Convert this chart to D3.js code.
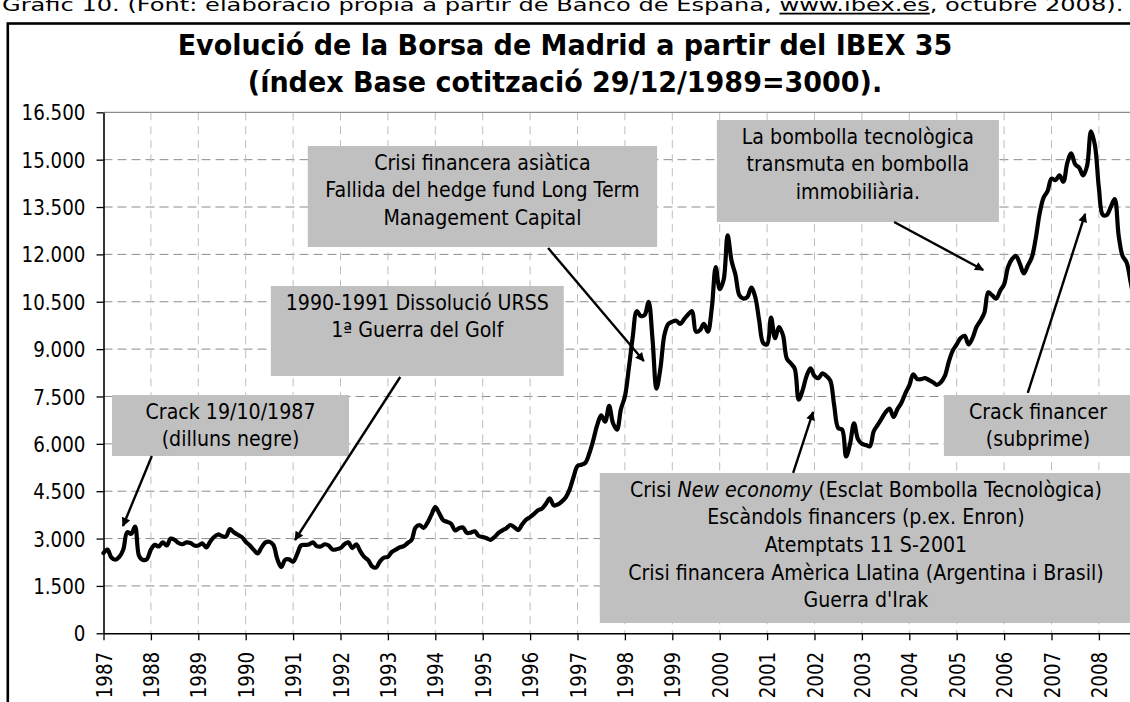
<!DOCTYPE html>
<html>
<head>
<meta charset="utf-8">
<script src="https://cdn.jsdelivr.net/npm/d3@7"></script>
<style>
  html, body { margin: 0; padding: 0; background: #fff; overflow: hidden; }
  svg { display: block; }
  text { font-family: "DejaVu Sans", Verdana, sans-serif; fill: #000; }
</style>
</head>
<body>
<svg id="chart" width="1130" height="702"></svg>
<script>
// ---------------------------------------------------------------
// Data: IBEX 35, monthly values starting January 1987
// ---------------------------------------------------------------
const firstYear = 1987;
const ibexMonthly = [
  // 1987
  2540, 2650, 2400, 2330, 2420, 2650, 3200, 3150, 3380, 2450, 2320, 2350,
  // 1988
  2650, 2800, 2750, 2880, 2780, 3000, 2960, 2860, 2820, 2880, 2860, 2780,
  // 1989
  2780, 2850, 2720, 2900, 3050, 3130, 3080, 3060, 3300, 3200, 3120, 3050,
  // 1990
  2900, 2790, 2650, 2530, 2720, 2880, 2900, 2800, 2350, 2100, 2330, 2340,
  // 1991
  2270, 2500, 2780, 2800, 2810, 2880, 2760, 2750, 2820, 2780, 2650, 2660,
  // 1992
  2700, 2820, 2880, 2700, 2820, 2600, 2420, 2320, 2120, 2080, 2280, 2400,
  // 1993
  2420, 2580, 2650, 2720, 2760, 2860, 2960, 3350, 3430, 3340, 3500, 3750,
  // 1994
  4000, 3800, 3580, 3530, 3470, 3260, 3330, 3350, 3180, 3190, 3230, 3080,
  // 1995
  3050, 3010, 2960, 3050, 3180, 3260, 3330, 3430, 3360, 3270, 3450, 3600,
  // 1996
  3680, 3780, 3900, 3950, 4100, 4270, 4050, 4080, 4170, 4300, 4550, 4950,
  // 1997
  5300, 5340, 5400, 5700, 6120, 6600, 6900, 6700, 7200, 6650, 6450, 7100,
  // 1998
  7500, 8400, 9400, 10200, 10050, 10080, 10500, 9300, 7750, 8400, 9450, 9800,
  // 1999
  9870, 9900, 9800, 9950, 10100, 10200, 9550, 9600, 9800, 9550, 10300, 11600,
  // 2000
  10900, 11200, 12600, 11800, 11350, 10700, 10600, 10650, 10950, 10650, 9900, 9200,
  // 2001
  9150, 10000, 9350, 9700, 9450, 8700, 8550, 8380, 7400, 7700, 8150, 8390,
  // 2002
  8150, 8080, 8230, 8150, 8000, 7200, 6500, 6450, 5600, 6000, 6650, 6150,
  // 2003
  6000, 5960, 5920, 6400, 6600, 6800, 7000, 7120, 6850, 7100, 7300, 7600,
  // 2004
  7850, 8200, 8050, 8050, 8080, 8020, 7950, 7870, 7950, 8150, 8600, 8950,
  // 2005
  9150, 9350, 9420, 9150, 9350, 9700, 9900, 10150, 10800, 10700, 10600, 10850,
  // 2006
  11050, 11600, 11850, 11950, 11700, 11400, 11650, 11900, 12500, 13300, 13800, 14000,
  // 2007
  14400, 14350, 14500, 14300, 14900, 15200, 14850, 14750, 14500, 14800, 15900, 15450,
  // 2008
  14100, 13250, 13250, 13500, 13750, 12600, 11950, 11750, 11150, 10500
];

const yearTicks = [1987, 1988, 1989, 1990, 1991, 1992, 1993, 1994, 1995, 1996, 1997,
                   1998, 1999, 2000, 2001, 2002, 2003, 2004, 2005, 2006, 2007, 2008];
const valueTicks = [0, 1500, 3000, 4500, 6000, 7500, 9000, 10500, 12000, 13500, 15000, 16500];

const captionText = ["Gràfic 10. (Font: elaboració pròpia a partir de Banco de España, ", "www.ibex.es", ", octubre 2008)."];
const titleLines = ["Evolució de la Borsa de Madrid a partir del IBEX 35",
                    "(índex Base cotització 29/12/1989=3000)."];

// Annotation boxes (extent in years / index points) with their text lines,
// and arrows pointing from the box to the event on the curve.
const notes = [
  { x0: 1987.18, x1: 1992.18, y0: 7547, y1: 5615,
    lines: [["Crack 19/10/1987"], ["(dilluns negre)"]],
    arrow: { from: [1988.02, 5615], to: [1987.41, 3398] } },
  { x0: 1990.53, x1: 1996.71, y0: 11000, y1: 8149,
    lines: [["1990-1991 Dissolució URSS"], ["1ª Guerra del Golf"]],
    arrow: { from: [1993.26, 8117], to: [1991.04, 2955] } },
  { x0: 1991.31, x1: 1998.68, y0: 15433, y1: 12234,
    lines: [["Crisi financera asiàtica"], ["Fallida del hedge fund Long Term"], ["Management Capital"]],
    arrow: { from: [1996.38, 12202], to: [1998.40, 8624] } },
  { x0: 1999.94, x1: 2005.89, y0: 16256, y1: 13026,
    lines: [["La bombolla tecnològica"], ["transmuta en bombolla"], ["immobiliària."]],
    arrow: { from: [2003.68, 13026], to: [2005.56, 11506] } },
  { x0: 1997.47, x1: 2008.70, y0: 5077, y1: 326,
    lines: [["Crisi ", "*New economy", " (Esclat Bombolla Tecnològica)"],
            ["Escàndols financers (p.ex. Enron)"],
            ["Atemptats 11 S-2001"],
            ["Crisi financera Amèrica Llatina (Argentina i Brasil)"],
            ["Guerra d'Irak"]],
    arrow: { from: [2001.55, 5077], to: [2001.97, 7009] } },
  { x0: 2004.73, x1: 2008.70, y0: 7547, y1: 5615,
    lines: [["Crack financer"], ["(subprime)"]],
    arrow: { from: [2006.50, 7611], to: [2007.71, 13280] } }
];

// ---------------------------------------------------------------
const svg = d3.select("#chart");

// Horizontal squeeze so the wide DejaVu glyphs occupy a Tahoma-like width.
function measure(str, size, weight) {
  const t = svg.append("text").attr("font-size", size).attr("font-weight", weight || "normal").text(str);
  const w = t.node().getComputedTextLength();
  t.remove();
  return w;
}
const tickSize = 21, noteSize = 20.5, titleSize = 28, captionSize = 18;
const tickF = 64 / measure("16.500", tickSize);
const noteF = 476 / measure("Crisi financera Amèrica Llatina (Argentina i Brasil)", noteSize);
const titleF = 775 / measure(titleLines[0], titleSize, "bold");
const captionF = 1122 / measure(captionText.join(""), captionSize);

const x = d3.scaleLinear().domain([1987, 2009]).range([103.5, 1146.3]);
const y = d3.scaleLinear().domain([0, 16500]).range([633.3, 112.3]);

// Caption above the frame (partly cut by the top edge)
const cap = svg.append("text")
  .attr("font-size", captionSize)
  .attr("transform", `translate(2,11) scale(${captionF},1)`);
cap.append("tspan").text(captionText[0]);
cap.append("tspan").attr("text-decoration", "underline").text(captionText[1]);
cap.append("tspan").text(captionText[2]);

// Outer frame
svg.append("rect")
  .attr("x", 7.8).attr("y", 23.5)
  .attr("width", 1300).attr("height", 900)
  .attr("fill", "none").attr("stroke", "#000").attr("stroke-width", 2.6);

// Title
titleLines.forEach((line, i) => {
  svg.append("text")
    .attr("font-size", titleSize).attr("font-weight", "bold")
    .attr("text-anchor", "middle")
    .attr("transform", `translate(565,${55 + i * 37}) scale(${titleF},1)`)
    .text(line);
});

// Grid
const grid = svg.append("g");
grid.selectAll("line.h")
  .data(valueTicks.filter(v => v > 0 && v < 16500))
  .join("line")
  .attr("x1", x(1987)).attr("x2", 1130)
  .attr("y1", d => y(d)).attr("y2", d => y(d))
  .attr("stroke", "#8c8c8c").attr("stroke-width", 1)
  .attr("stroke-dasharray", "9,5");
grid.selectAll("line.v")
  .data(yearTicks.filter(t => t > 1987))
  .join("line")
  .attr("x1", d => x(d)).attr("x2", d => x(d))
  .attr("y1", y(16500)).attr("y2", y(0))
  .attr("stroke", "#bdbdbd").attr("stroke-width", 1)
  .attr("stroke-dasharray", "8,6");
grid.append("line")
  .attr("x1", x(1987)).attr("x2", 1130)
  .attr("y1", y(16500)).attr("y2", y(16500))
  .attr("stroke", "#8c8c8c").attr("stroke-width", 1.2);

// Axes
const fmt = d3.formatLocale({ decimal: ",", thousands: ".", grouping: [3], currency: ["", "€"] }).format(",d");

const yAxis = svg.append("g")
  .attr("transform", `translate(${x(1987)},0)`)
  .call(d3.axisLeft(y).tickValues(valueTicks).tickFormat(fmt).tickSize(7).tickSizeOuter(0).tickPadding(11));
yAxis.attr("font-family", null).attr("font-size", tickSize);
yAxis.select(".domain").attr("stroke", "#000").attr("stroke-width", 1.6);
yAxis.selectAll(".tick line").attr("stroke", "#000").attr("stroke-width", 1.3);
yAxis.selectAll(".tick text").each(function () {
  const t = d3.select(this);
  const px = +t.attr("x");
  t.attr("x", px / tickF).attr("transform", `scale(${tickF},1)`).attr("dy", "0.36em");
});

const xAxis = svg.append("g")
  .attr("transform", `translate(0,${y(0)})`)
  .call(d3.axisBottom(x).tickValues(yearTicks).tickFormat(d3.format("d")).tickSize(7).tickSizeOuter(0));
xAxis.attr("font-family", null).attr("font-size", tickSize);
xAxis.select(".domain").attr("stroke", "#000").attr("stroke-width", 1.6);
xAxis.selectAll(".tick line").attr("stroke", "#000").attr("stroke-width", 1.3);
xAxis.selectAll(".tick text")
  .attr("text-anchor", "end")
  .attr("x", -18.5 / tickF)
  .attr("y", 0)
  .attr("dy", "0.36em")
  .attr("transform", `rotate(-90) scale(${tickF},1)`);

// Index curve
const series = ibexMonthly.map((v, i) => ({ t: firstYear + i / 12, v }));
svg.append("path")
  .datum(series)
  .attr("fill", "none")
  .attr("stroke", "#000")
  .attr("stroke-width", 4.2)
  .attr("stroke-linejoin", "round")
  .attr("stroke-linecap", "round")
  .attr("d", d3.line().x(d => x(d.t)).y(d => y(d.v)).curve(d3.curveCatmullRom.alpha(0.5)));

// Arrowhead marker
svg.append("defs").append("marker")
  .attr("id", "head")
  .attr("viewBox", "0 0 10 10")
  .attr("refX", 9).attr("refY", 5)
  .attr("markerUnits", "userSpaceOnUse")
  .attr("markerWidth", 11).attr("markerHeight", 9)
  .attr("orient", "auto")
  .append("path").attr("d", "M0,0 L10,5 L0,10 Z").attr("fill", "#000");

// Annotation boxes
const lineStep = 27.6, firstBase = 23.8;
notes.forEach(n => {
  const bx = x(n.x0), bw = x(n.x1) - x(n.x0);
  const by = y(n.y0), bh = y(n.y1) - y(n.y0);
  svg.append("rect")
    .attr("x", bx).attr("y", by).attr("width", bw).attr("height", bh)
    .attr("fill", "#c0c0c0");
  const cx = bx + bw / 2;
  n.lines.forEach((parts, i) => {
    const t = svg.append("text")
      .attr("font-size", noteSize)
      .attr("text-anchor", "middle")
      .attr("transform", `translate(${cx},${by + firstBase + i * lineStep}) scale(${noteF},1)`);
    parts.forEach(p => {
      if (p.startsWith("*")) t.append("tspan").attr("font-style", "italic").text(p.slice(1));
      else t.append("tspan").text(p);
    });
  });
});

// Arrows
notes.forEach(n => {
  svg.append("line")
    .attr("x1", x(n.arrow.from[0])).attr("y1", y(n.arrow.from[1]))
    .attr("x2", x(n.arrow.to[0])).attr("y2", y(n.arrow.to[1]))
    .attr("stroke", "#000").attr("stroke-width", 2.4)
    .attr("marker-end", "url(#head)");
});
</script>
</body>
</html>
